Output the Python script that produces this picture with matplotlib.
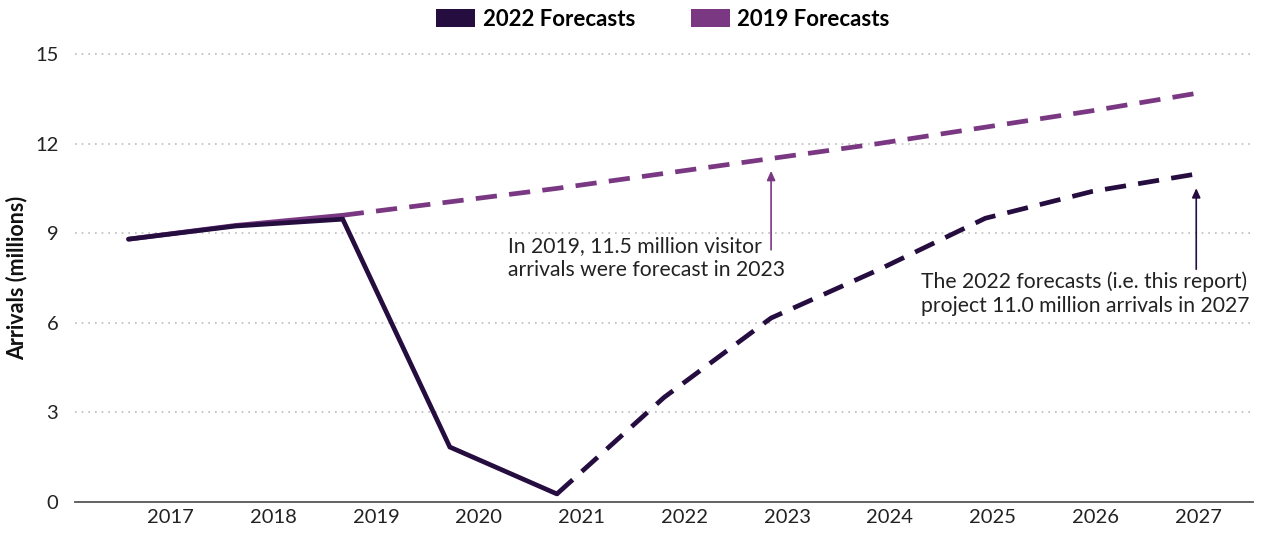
import matplotlib
matplotlib.use("Agg")
import matplotlib.pyplot as plt
from matplotlib.patches import Patch
import numpy as np

plt.rcParams['font.family'] = ['Lato', 'DejaVu Sans']

years = ['2017', '2018', '2019', '2020', '2021', '2022', '2023', '2024', '2025', '2026', '2027']
fc2022 = [8.80, 9.24, 9.47, 1.84, 0.27, 3.50, 6.16, 7.77, 9.50, 10.40, 11.00]
fc2019 = [8.80, 9.26, 9.60, 10.05, 10.50, 11.00, 11.50, 12.00, 12.55, 13.10, 13.70]
y_ticks = [0, 3, 6, 9, 12, 15]

DARK = '#250d40'
PURPLE = '#7a3883'
TXT = '#222222'

fig = plt.figure(figsize=(12.61, 5.38), dpi=100)
ax = fig.add_axes([75/1261, 1-502/538, (1253-75)/1261, (502-54)/538])

x = np.arange(len(years))
hist_end = years.index('2019')
act_end = years.index('2021')
LW = 3.4

# 2019 forecasts
ax.plot(x[:hist_end+1], fc2019[:hist_end+1], color=PURPLE, lw=LW, solid_capstyle='round', zorder=3)
ax.plot(x[hist_end:], fc2019[hist_end:], color=PURPLE, lw=LW, dashes=(4.5, 2.6), zorder=3)
# 2022 forecasts
ax.plot(x[:act_end+1], fc2022[:act_end+1], color=DARK, lw=LW, solid_capstyle='round',
        solid_joinstyle='miter', zorder=4)
ax.plot(x[act_end:], fc2022[act_end:], color=DARK, lw=LW, dashes=(4.5, 2.6), zorder=4)

ax.set_xlim(-0.5, len(years) - 0.5)
ax.set_ylim(0, 15)

# tick labels (offset from points as in reference)
tick_pos = np.linspace(0.39, 9.99, len(years))
ax.set_xticks(tick_pos)
ax.set_xticklabels(years, fontsize=14.5, color=TXT)
ax.set_yticks(y_ticks)
ax.set_yticklabels([str(v) for v in y_ticks], fontsize=14.5, color=TXT)
ax.tick_params(axis='both', length=0)
ax.tick_params(axis='y', pad=12)
ax.tick_params(axis='x', pad=5)

for v in y_ticks[1:]:
    ax.axhline(v, color='#bbbbbb', lw=1.2, ls=(0, (1, 3)), zorder=1, clip_on=False)

for s in ['top', 'right', 'left']:
    ax.spines[s].set_visible(False)
ax.spines['bottom'].set_color('#555555')
ax.spines['bottom'].set_linewidth(1.3)

ax.set_ylabel('Arrivals (millions)', fontsize=15.5, fontweight='bold', color='#111111')
ax.yaxis.set_label_coords(-0.040, 0.50)

# annotations
i23 = years.index('2023')
i27 = years.index('2027')
ax.annotate('', xy=(i23, fc2019[i23] - 0.32), xytext=(i23, fc2019[i23] - 3.15),
            arrowprops=dict(arrowstyle='-|>,head_length=0.55,head_width=0.25', color=PURPLE, lw=1.2))
ax.text(3.54, 8.17, 'In 2019, 11.5 million visitor\narrivals were forecast in 2023',
        fontsize=15.2, color=TXT, va='center', ha='left', linespacing=1.25)

ax.annotate('', xy=(i27 - 0.03, fc2022[i27] - 0.4), xytext=(i27 - 0.03, fc2022[i27] - 3.3),
            arrowprops=dict(arrowstyle='-|>,head_length=0.55,head_width=0.25', color=DARK, lw=1.2))
ax.text(7.40, 6.98, 'The 2022 forecasts (i.e. this report)\nproject 11.0 million arrivals in 2027',
        fontsize=15.2, color=TXT, va='center', ha='left', linespacing=1.25)

handles = [Patch(facecolor=DARK, edgecolor='none', label='2022 Forecasts'),
           Patch(facecolor=PURPLE, edgecolor='none', label='2019 Forecasts')]
leg = fig.legend(handles=handles, loc='center', bbox_to_anchor=(663/1261, 1-19/538), ncol=2,
                 frameon=False, handlelength=1.75, handleheight=0.85, columnspacing=2.5,
                 handletextpad=0.35, prop={'weight': 'bold', 'size': 16})

fig.savefig('out.png', dpi=100, facecolor='white')
